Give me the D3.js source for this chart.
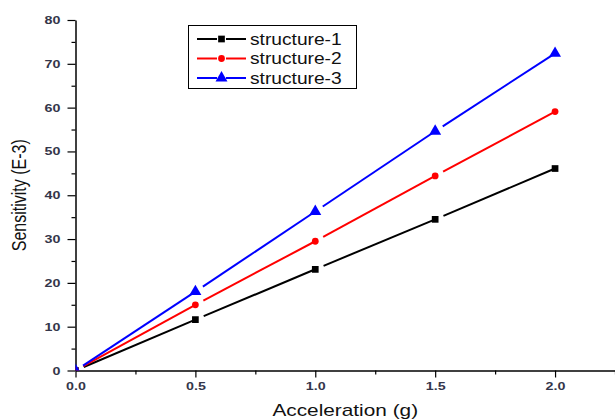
<!DOCTYPE html>
<html>
<head>
<meta charset="utf-8">
<script src="https://cdn.jsdelivr.net/npm/d3@7"></script>
<style>
  body { margin: 0; background: #fff; }
  svg { display: block; }
  .tick text { font-family: "Liberation Sans", Arial, sans-serif; }
</style>
</head>
<body>
<svg id="chart" width="615" height="420"></svg>
<script>
{
  const accel = [0, 0.5, 1.0, 1.5, 2.0];
  const structure1 = [0, 11.6, 23.1, 34.5, 46.1];
  const structure2 = [0, 15.0, 29.5, 44.4, 59.1];
  const structure3 = [0, 18.0, 36.3, 54.6, 72.4];
  const seriesNames = ['structure-1', 'structure-2', 'structure-3'];
  const xTicks = [0, 0.5, 1.0, 1.5, 2.0];
  const xMinor = [0.25, 0.75, 1.25, 1.75, 2.25];
  const yTicks = [0, 10, 20, 30, 40, 50, 60, 70, 80];
  const yMinor = [5, 15, 25, 35, 45, 55, 65, 75];

  const BLACK = '#000';
  const RED = '#FF0000';
  const BLUE = '#0000FF';
  const LABEL = '#34364a';
  const FONT = '"Liberation Sans", Arial, sans-serif';
  const STRETCH = 1.3;

  const svg = d3.select('#chart');

  const x = d3.scaleLinear().domain([0, 2.25]).range([75.5, 615]);
  const y = d3.scaleLinear().domain([0, 80]).range([370.5, 20]);

  const series = [
    { name: seriesNames[0], values: structure1, color: BLACK, symbol: d3.symbolSquare, size: 45 },
    { name: seriesNames[1], values: structure2, color: RED, symbol: d3.symbolCircle, size: 36 },
    { name: seriesNames[2], values: structure3, color: BLUE, symbol: d3.symbolTriangle, size: 62 }
  ];

  svg.append('defs')
    .append('clipPath')
      .attr('id', 'plot-clip')
    .append('rect')
      .attr('x', x(0))
      .attr('y', 0)
      .attr('width', 615 - x(0))
      .attr('height', y(0));

  // minor ticks first so major axis sits on top
  svg.append('g')
    .attr('transform', `translate(0,${y(0)})`)
    .call(d3.axisBottom(x).tickValues(xMinor).tickSize(4).tickFormat(''))
    .call(g => g.select('.domain').remove())
    .call(g => g.selectAll('line').attr('stroke', BLACK).attr('stroke-width', 1.2));

  svg.append('g')
    .attr('transform', `translate(${x(0)},0)`)
    .call(d3.axisLeft(y).tickValues(yMinor).tickSize(4).tickFormat(''))
    .call(g => g.select('.domain').remove())
    .call(g => g.selectAll('line').attr('stroke', BLACK).attr('stroke-width', 1.2));

  const xAxis = svg.append('g')
    .attr('transform', `translate(0,${y(0)})`)
    .call(d3.axisBottom(x).tickValues(xTicks).tickSize(7).tickSizeOuter(0).tickPadding(5)
      .tickFormat(d3.format('.1f')));

  const yAxis = svg.append('g')
    .attr('transform', `translate(${x(0)},0)`)
    .call(d3.axisLeft(y).tickValues(yTicks).tickSize(8).tickSizeOuter(0).tickPadding(7));

  [xAxis, yAxis].forEach((axis) => {
    axis.select('.domain').attr('stroke', BLACK).attr('stroke-width', 1.5);
    axis.selectAll('.tick line').attr('stroke', BLACK).attr('stroke-width', 1.2);
    axis.selectAll('.tick text')
      .attr('fill', LABEL)
      .attr('font-size', 11)
      .attr('font-weight', 'bold')
      .attr('font-family', FONT);
  });

  // stretch tick labels horizontally, like the source image
  xAxis.selectAll('.tick text')
    .attr('transform', `scale(${STRETCH},1)`);
  yAxis.selectAll('.tick text')
    .attr('text-anchor', 'end')
    .attr('transform', function() {
      const tx = +d3.select(this).attr('x');
      return `translate(${tx},0) scale(${STRETCH},1) translate(${-tx},0)`;
    });

  // series: line segments leave a small gap after each marker
  const plot = svg.append('g').attr('clip-path', 'url(#plot-clip)');
  const GAP = 9;

  series.forEach((s) => {
    const pts = accel.map((a, i) => [x(a), y(s.values[i])]);
    const segs = d3.pairs(pts).map(([p, q]) => {
      const dx = q[0] - p[0];
      const dy = q[1] - p[1];
      const len = Math.hypot(dx, dy);
      return [[p[0] + dx / len * GAP, p[1] + dy / len * GAP], q];
    });

    plot.selectAll(null)
      .data(segs)
      .join('line')
        .attr('x1', d => d[0][0])
        .attr('y1', d => d[0][1])
        .attr('x2', d => d[1][0])
        .attr('y2', d => d[1][1])
        .attr('stroke', s.color)
        .attr('stroke-width', 2);

    plot.selectAll(null)
      .data(pts)
      .join('path')
        .attr('transform', d => `translate(${d[0]},${d[1]})`)
        .attr('d', d3.symbol().type(s.symbol).size(s.size))
        .attr('fill', s.color);
  });

  // legend
  const legend = svg.append('g').attr('transform', 'translate(188,25)');
  legend.append('rect')
    .attr('x', 0.5)
    .attr('y', 0.5)
    .attr('width', 168)
    .attr('height', 63)
    .attr('fill', '#fff')
    .attr('stroke', BLACK)
    .attr('stroke-width', 1);

  const rows = legend.selectAll('.row')
    .data(series)
    .join('g')
      .attr('class', 'row')
      .attr('transform', (d, i) => `translate(0,${14 + i * 19.5})`);

  rows.append('line')
    .attr('x1', 9).attr('x2', 29)
    .attr('stroke', d => d.color).attr('stroke-width', 2);
  rows.append('line')
    .attr('x1', 38).attr('x2', 58)
    .attr('stroke', d => d.color).attr('stroke-width', 2);
  rows.append('path')
    .attr('transform', 'translate(33.5,0)')
    .attr('d', d => d3.symbol().type(d.symbol).size(d.size)())
    .attr('fill', d => d.color);
  rows.append('text')
    .attr('transform', `translate(62,0) scale(1.2,1)`)
    .attr('dy', '0.35em')
    .attr('font-family', FONT)
    .attr('font-size', 16)
    .attr('fill', '#111')
    .text(d => d.name);

  // axis titles
  svg.append('text')
    .attr('transform', `translate(${(x(0) + 615) / 2},416) scale(${STRETCH},1)`)
    .attr('text-anchor', 'middle')
    .attr('font-family', FONT)
    .attr('font-size', 16)
    .attr('fill', '#111')
    .text('Acceleration (g)');

  svg.append('text')
    .attr('transform', `translate(26,${y(40)}) scale(${STRETCH},1) rotate(-90)`)
    .attr('text-anchor', 'middle')
    .attr('font-family', FONT)
    .attr('font-size', 16)
    .attr('fill', '#111')
    .text('Sensitivity (E-3)');
}
</script>
</body>
</html>
